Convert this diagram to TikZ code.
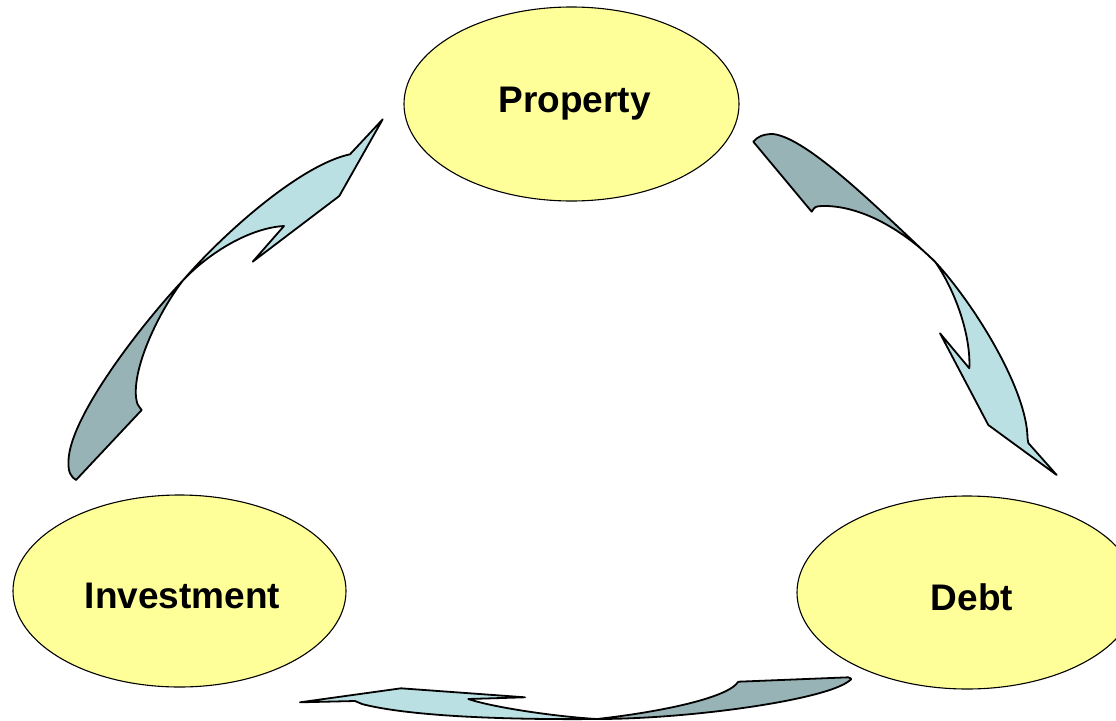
\documentclass[tikz,border=0pt]{standalone}
\usepackage{fontspec}
\setmainfont{Liberation Sans}
\usetikzlibrary{shapes.geometric}
\definecolor{bubble}{HTML}{FFFF99}
\definecolor{arrowlight}{HTML}{BBE0E3}
\definecolor{arrowdark}{HTML}{97B3B6}
\tikzset{
  bubblenode/.style={ellipse, draw=black, line width=1.1pt, fill=bubble,
    inner sep=0pt, font=\fontsize{37}{40}\selectfont\bfseries},
  lightpart/.style={fill=arrowlight, draw=black, line width=1.8pt, line join=round},
  darkpart/.style={fill=arrowdark, draw=black, line width=1.8pt, line join=round},
}
\begin{document}
\begin{tikzpicture}[x=1pt, y=-1pt]
\useasboundingbox (0,0) rectangle (1116,720);

% ---- curved block arrow: Investment -> Property (left)
\filldraw[darkpart] (183.3,280) .. controls (138.3,328) and (68,420) .. (68.5,462)
  .. controls (68,472) and (71,477) .. (76,480)
  -- (141.7,410) .. controls (137,404) .. (136,397)
  .. controls (133,365) and (160,310) .. (183.3,280) -- cycle;
\filldraw[lightpart] (183.3,280) .. controls (223,234) and (300,165) .. (350,154.3)
  -- (382.7,119.3) -- (339.3,196) -- (252.7,261.7) -- (284,226)
  .. controls (250,228) and (210,252) .. (183.3,280) -- cycle;

% ---- curved block arrow: Property -> Debt (right)
\filldraw[darkpart] (935,261.7) .. controls (880,210.5) and (808,138) .. (773,134)
  .. controls (763,134) and (757,137) .. (753.3,141.7)
  -- (811.7,211.7) .. controls (815,206.5) .. (822,206)
  .. controls (862,205) and (905,231.7) .. (935,261.7) -- cycle;
\filldraw[lightpart] (935,261.7) .. controls (975,305) and (1027,390) .. (1027.5,438)
  -- (1028.3,443) -- (1056.7,475) -- (988.3,425) -- (940,333.3) -- (969.3,368.3)
  .. controls (971,335) and (955,290) .. (935,261.7) -- cycle;

% ---- curved block arrow: Debt -> Investment (bottom)
\filldraw[darkpart] (597,719) .. controls (660,712) and (728,698) .. (738.3,681.7)
  -- (848.3,677.3) .. controls (852,679) .. (849,681)
  .. controls (825,700) and (690,719) .. (597,719) -- cycle;
\filldraw[lightpart] (597,719) .. controls (560,717) and (495,708) .. (468.3,699)
  -- (525,697.3) -- (401,688.3) -- (300,702.3) -- (355,701)
  .. controls (359,702) .. (362,704)
  .. controls (400,714) and (480,720) .. (597,719) -- cycle;

% ---- ellipses
\node[bubblenode, minimum width=335pt, minimum height=194pt] (property) at (571.5,104) {\hspace{6pt}Property};
\node[bubblenode, minimum width=333pt, minimum height=192pt, text height=36pt] (investment) at (179.5,591) {\hspace{6pt}Investment};
\node[bubblenode, minimum width=340pt, minimum height=193pt, text height=36pt] (debt) at (967,592.5) {\hspace{10pt}Debt};
\end{tikzpicture}
\end{document}
